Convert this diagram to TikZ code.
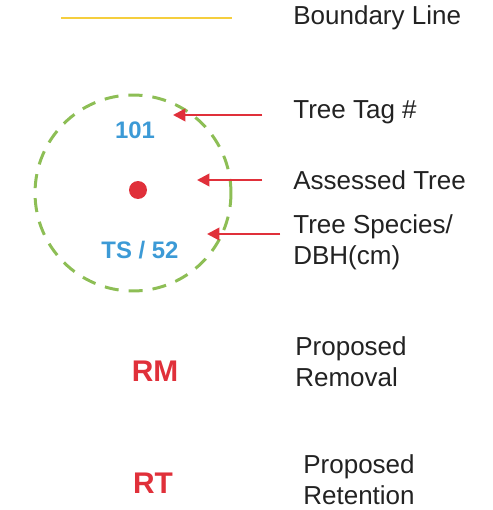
\documentclass[tikz,border=0pt]{standalone}
\usepackage{fontspec}
\setmainfont{Liberation Sans}
\usetikzlibrary{arrows.meta,positioning}
\definecolor{boundyellow}{HTML}{F5CE3E}
\definecolor{tagblue}{HTML}{3C9AD6}
\definecolor{markred}{HTML}{E0303A}
\definecolor{ringgreen}{HTML}{8DBE55}
\definecolor{textgray}{HTML}{222222}
\tikzset{
    %Define standard arrow tip
    >={Triangle[length=7pt,width=7pt]},
    %Define style for legend texts
    legend/.style={
           anchor=west,
           align=left,
           inner sep=0pt,
           text=textgray,
           font=\fontsize{14.8}{17.5}\selectfont},
    tag/.style={
           inner sep=0pt,
           text=tagblue,
           font=\bfseries\fontsize{13.6}{16}\selectfont},
    code/.style={
           inner sep=0pt,
           text=markred,
           font=\bfseries\fontsize{17}{20}\selectfont},
    ring/.style={
           circle,
           draw=ringgreen,
           line width=1.7pt,
           dash pattern=on 8pt off 5.7pt,
           minimum size=3.92cm},
    tree/.style={
           circle,
           fill=markred,
           inner sep=0pt,
           minimum size=0.36cm},
    % Define arrow style
    pil/.style={
           ->,
           draw=markred,
           fill=markred,
           line width=1.5pt},
    boundary/.style={
           draw=boundyellow,
           line width=1.7pt}
}
\begin{document}
\begin{tikzpicture}[x=0.02cm,y=-0.02cm]
\useasboundingbox (0,0) rectangle (493,510);
 %boundary line
\coordinate (b1) at (61,18);
\coordinate (b2) at (232,18);
\draw[boundary] (b1) -- (b2);
\node[legend] (bline) at (293,18) {Boundary Line};
 %tree symbol
\node[ring] (crown) at (133,193) {};
\node[tree] (dot) at (138,190) {};
\node[tag] (tagno) at (135,130) {101};
\node[tag] (species) at (140,250) {TS / 52};
 %labels
\node[legend] (tagtext) at (293,112) {Tree Tag \#};
\node[legend] (treetext) at (293,180) {Assessed Tree};
\node[legend] (sptext) at (293,242) {Tree Species/\\DBH(cm)};
 %arrows
\coordinate (t1) at (262,115);
\coordinate (h1) at (173,115);
\coordinate (t2) at (262,180);
\coordinate (h2) at (197,180);
\coordinate (t3) at (280,234);
\coordinate (h3) at (207,234);
\draw[pil] (t1) -- (h1);
\draw[pil] (t2) -- (h2);
\draw[pil] (t3) -- (h3);
 %removal and retention
\node[code] (rm) at (155,371) {RM};
\node[legend] (rmtext) at (295,362) {Proposed\\Removal};
\node[code] (rt) at (153,483) {RT};
\node[legend] (rttext) at (303,480) {Proposed\\Retention};
\end{tikzpicture}
\end{document}
